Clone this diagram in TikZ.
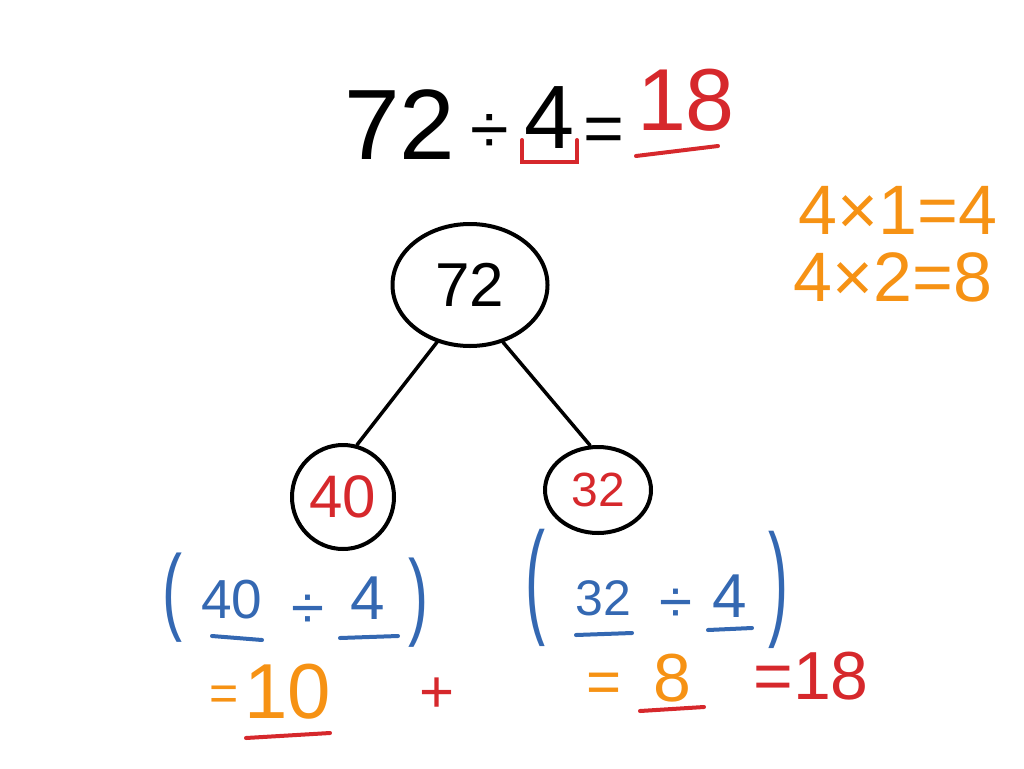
\documentclass[tikz,border=0pt]{standalone}
\usepackage{fontspec}
\setmainfont{Liberation Sans}
\usetikzlibrary{shapes.geometric}
\definecolor{pred}{RGB}{214,40,44}
\definecolor{porange}{RGB}{246,146,20}
\definecolor{pblue}{RGB}{52,104,178}
\tikzset{
  txt/.style={inner sep=0pt, anchor=center},
  fs/.style={font=\fontsize{#1}{#1}\selectfont},
  circ/.style={ellipse, draw=black, line width=4pt, inner sep=0pt},
  edge/.style={draw=black, line width=3.5pt, line cap=round},
  uline/.style={line width=4pt, line cap=round},
}
\newcommand{\tallp}[2]{\scalebox{1}[#1]{#2}}
\begin{document}
\begin{tikzpicture}[x=1pt,y=-1pt]
\useasboundingbox (0,0) rectangle (1024,768);
% title
\node[txt,fs=100] (t72) at (400,125) {72};
\node[txt,fs=70] (tdiv) at (490,134) {÷};
\node[txt,fs=90] (t4) at (550,118) {4};
\node[txt,fs=70] (teq) at (604,135) {=};
\node[txt,fs=88,text=pred] (t18) at (686,100) {18};
\draw[pred,uline] (522,140) -- (522,162) -- (577,162) -- (577,140);
\draw[pred,uline] (636,156) -- (718,146);
% orange facts
\node[txt,fs=70,text=porange] (f1) at (898,210) {4×1=4};
\node[txt,fs=70,text=porange] (f2) at (893,277) {4×2=8};
% tree
\node[circ,minimum width=155pt,minimum height=122pt] (c72) at (470,285) {};
\node[txt,fs=62] at (c72) {72};
\node[circ,minimum width=102pt,minimum height=104pt] (c40) at (343,497) {};
\node[txt,fs=60,text=pred] at (c40) {40};
\node[circ,minimum width=106pt,minimum height=86pt] (c32) at (598,490) {};
\node[txt,fs=48,text=pred] at (c32) {32};
\draw[edge] (c72.240) -- (c40.75);
\draw[edge] (c72.300) -- (c32.100);
% blue left
\node[txt,fs=60,text=pblue] (lp1) at (172,598) {\tallp{1.6}{(}};
\node[txt,fs=55,text=pblue] (b40) at (232,600) {40};
\node[txt,fs=60,text=pblue] (bd1) at (308,612) {÷};
\node[txt,fs=62,text=pblue] (b41) at (368,598) {4};
\node[txt,fs=60,text=pblue] (rp1) at (418,603) {\tallp{1.6}{)}};
\draw[pblue,uline] (212,636) -- (262,640);
\draw[pblue,uline] (340,638) -- (398,636);
% blue right
\node[txt,fs=60,text=pblue] (lp2) at (535,588) {\tallp{2.1}{(}};
\node[txt,fs=50,text=pblue] (b32) at (603,598) {32};
\node[txt,fs=60,text=pblue] (bd2) at (676,606) {÷};
\node[txt,fs=62,text=pblue] (b42) at (730,596) {4};
\node[txt,fs=60,text=pblue] (rp2) at (778,590) {\tallp{2.1}{)}};
\draw[pblue,uline] (576,635) -- (632,633);
\draw[pblue,uline] (708,630) -- (752,628);
% bottom results
\node[txt,fs=50,text=porange] (e1) at (224,698) {=};
\node[txt,fs=78,text=porange] (r10) at (288,692) {10};
\draw[pred,uline] (246,738) -- (330,733);
\node[txt,fs=60,text=pred] (plus) at (437,695) {+};
\node[txt,fs=60,text=porange] (e2) at (604,688) {=};
\node[txt,fs=68,text=porange] (r8) at (672,678) {8};
\draw[pred,uline] (640,711) -- (704,707);
\node[txt,fs=68,text=pred] (r18) at (811,676) {=18};
\end{tikzpicture}
\end{document}
